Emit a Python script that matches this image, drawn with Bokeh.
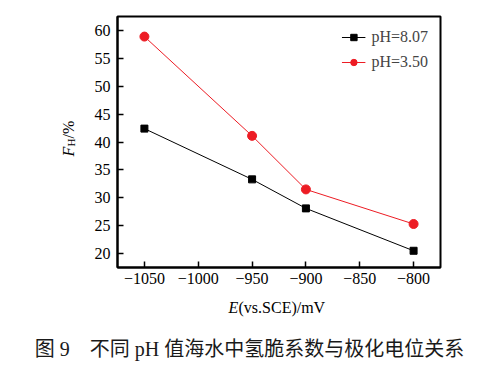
import math
from bokeh.plotting import figure
from bokeh.layouts import column, row
from bokeh.models import Label, Legend, LegendItem, FixedTicker, Range1d
from bokeh.embed import file_html
from bokeh.resources import INLINE

# data
potential = [-1050, -950, -900, -800]
fh_ph807 = [42.4, 33.3, 28.1, 20.5]
fh_ph350 = [58.9, 41.1, 31.5, 25.3]
series_names = ["pH=8.07", "pH=3.50"]
x_ticks = [-1050, -1000, -950, -900, -850, -800]
y_ticks = [20, 25, 30, 35, 40, 45, 50, 55, 60]
caption = "图 9\u3000不同 pH 值海水中氢脆系数与极化电位关系"

SERIF = "Liberation Serif"
RED = "#ed1c24"

LEFT_W = 88      # width of the strip holding the y title
TOP_H = 297      # height of the main plot row
TOTAL_W, TOTAL_H = 481, 361

p = figure(width=TOTAL_W - LEFT_W, height=TOP_H, output_backend="svg", toolbar_location=None,
           x_range=Range1d(-1075, -775), y_range=Range1d(17.5, 62.5),
           min_border_left=117 - LEFT_W, min_border_right=41, min_border_top=16,
           min_border_bottom=TOP_H - 267)
p.grid.visible = False
p.background_fill_color = "white"
p.border_fill_color = "white"
p.outline_line_color = "black"
p.outline_line_width = 2

for ax in (p.xaxis[0], p.yaxis[0]):
    ax.axis_line_width = 2
    ax.major_tick_in = 6
    ax.major_tick_out = 0
    ax.minor_tick_in = 0
    ax.minor_tick_out = 0
    ax.major_tick_line_width = 1.5
    ax.major_label_text_font = SERIF
    ax.major_label_text_font_size = "16px"
    ax.major_label_text_color = "black"

p.xaxis.ticker = FixedTicker(ticks=x_ticks)
p.yaxis.ticker = FixedTicker(ticks=y_ticks)
p.xaxis.major_label_overrides = {t: "\u2212" + str(abs(t)) for t in x_ticks}
p.xaxis.major_label_standoff = 5
p.yaxis.major_label_standoff = 7

l1 = p.line(potential, fh_ph807, line_color="black", line_width=1)
m1 = p.scatter(potential, fh_ph807, marker="square", size=7, color="black")
l2 = p.line(potential, fh_ph350, line_color=RED, line_width=1)
m2 = p.scatter(potential, fh_ph350, marker="circle", size=9, color=RED)

legend = Legend(items=[LegendItem(label=series_names[0], renderers=[l1, m1]),
                       LegendItem(label=series_names[1], renderers=[l2, m2])],
                location="top_right", border_line_color=None, background_fill_alpha=0,
                label_text_font=SERIF, label_text_font_size="16px",
                label_height=16, glyph_height=16, glyph_width=24,
                label_standoff=6, spacing=7, padding=4, margin=12)
p.add_layout(legend)


def blank(w, h):
    f = figure(width=w, height=h, output_backend="svg", toolbar_location=None,
               x_range=Range1d(0, 1), y_range=Range1d(0, 1),
               x_axis_type=None, y_axis_type=None, min_border=0)
    f.grid.visible = False
    f.outline_line_color = None
    f.border_fill_color = "white"
    f.background_fill_color = "white"
    return f


fy = blank(LEFT_W, TOP_H)
fb = blank(TOTAL_W, TOTAL_H - TOP_H)


def put(fig, top, text, px, py, size="16px", style="normal", angle=0.0, align="left",
        font=SERIF, color="black"):
    # px, py: page position of the text anchor; top: page y of the figure's top
    h = fig.height
    fig.add_layout(Label(x=px, y=(top + h) - py, x_units="screen", y_units="screen", text=text,
                         angle=angle, text_font=font, text_font_style=style, text_font_size=size,
                         text_baseline="alphabetic", text_align=align, text_color=color))


# y axis title: F_H/%
ROT_SHIFT = 28
put(fy, 0, "F", 68, 158 + ROT_SHIFT, style="italic", angle=math.pi / 2)
put(fy, 0, "H", 70, 148 + ROT_SHIFT, size="11px", angle=math.pi / 2)
put(fy, 0, "/%", 68, 140 + ROT_SHIFT, angle=math.pi / 2)

# x axis title: E(vs.SCE)/mV
put(fb, TOP_H, "E", 228, 307, style="italic")
put(fb, TOP_H, "(vs.SCE)/mV", 238, 307)

# caption
put(fb, TOP_H, caption, 249, 348, size="20px", align="center",
    font="Liberation Serif, Noto Sans CJK SC", color="#1a1a1a")

layout = column(row(fy, p), fb)
open("out.html", "w").write(file_html(layout, INLINE))
